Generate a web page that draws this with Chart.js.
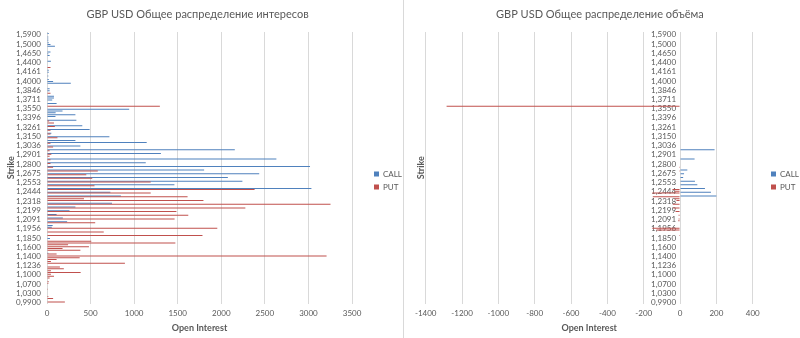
<!DOCTYPE html>
<html>
<head>
<meta charset="utf-8">
<script src="https://cdn.jsdelivr.net/npm/chart.js@4/dist/chart.umd.min.js"></script>
<style>
  body { margin: 0; background: #fff; }
  #oiBox { position: absolute; left: 0; top: 0; width: 403px; height: 338px; }
  #volBox { position: absolute; left: 403px; top: 0; width: 396px; height: 338px; border-left: 1px solid #d9d9d9; }
</style>
</head>
<body>
<div id="oiBox"><canvas id="chartOI" width="403" height="338"></canvas></div>
<div id="volBox"><canvas id="chartVol" width="396" height="338"></canvas></div>
<script>
// strikes printed on the axis (every 5th row, bottom to top)
const strikeTicks = ['0,9900', '1,0300', '1,0700', '1,1000', '1,1236', '1,1400', '1,1600', '1,1850',
  '1,1956', '1,2091', '1,2199', '1,2318', '1,2444', '1,2553', '1,2675', '1,2800', '1,2901', '1,3036',
  '1,3150', '1,3261', '1,3396', '1,3550', '1,3711', '1,3846', '1,4000', '1,4161', '1,4400', '1,4650',
  '1,5000', '1,5900'];

// open interest per strike row, bottom row first
const callOI = [
  0, 0, 0, 0, 0, 0, 0, 0, 0, 0,
  0, 0, 0, 0, 0, 0, 0, 0, 0, 0,
  0, 0, 0, 0, 0, 0, 0, 15, 0, 0,
  0, 0, 0, 0, 0, 34, 0, 0, 0, 0,
  0, 55, 65, 0, 231, 0, 182, 0, 110, 0,
  258, 0, 326, 0, 746, 0, 0, 0, 848, 0,
  727, 0, 3034, 0, 1462, 0, 2242, 0, 2075, 0,
  2435, 0, 1803, 0, 3018, 0, 1133, 0, 2632, 0,
  0, 1307, 0, 2155, 0, 383, 0, 1144, 326, 0,
  716, 0, 50, 0, 489, 0, 405, 0, 0, 337,
  0, 97, 326, 99, 178, 943, 0, 0, 110, 0,
  60, 80, 80, 0, 0, 30, 30, 0, 0, 273,
  70, 20, 0, 15, 0, 20, 20, 0, 0, 0,
  0, 45, 0, 0, 30, 15, 40, 0, 0, 91,
  40, 20, 15, 15, 15, 0, 20
];
const putOI = [
  205, 0, 70, 15, 0, 0, 0, 10, 0, 0,
  15, 20, 0, 30, 80, 45, 386, 45, 193, 148,
  0, 894, 45, 110, 375, 3208, 110, 0, 383, 178,
  481, 242, 1473, 508, 0, 0, 1784, 0, 651, 0,
  1954, 0, 0, 553, 0, 1464, 0, 1621, 0, 1485,
  0, 2276, 0, 3253, 0, 1795, 424, 1613, 0, 1190,
  0, 2382, 0, 545, 0, 1190, 0, 519, 0, 451,
  0, 583, 0, 70, 0, 40, 0, 40, 0, 30,
  50, 0, 30, 0, 70, 0, 40, 0, 0, 120,
  0, 40, 0, 40, 0, 90, 0, 80, 25, 0,
  0, 0, 0, 0, 0, 0, 1295, 0, 0, 0,
  0, 0, 0, 40, 0, 0, 0, 0, 0, 0,
  0, 0, 0, 0, 0, 0, 0, 40, 0, 0,
  0, 0, 0, 0, 0, 0, 0, 0, 0, 0,
  0, 0, 0, 0, 0, 0, 0
];

// volume per strike row (puts shown as negative)
const callVol = [
  0, 0, 0, 0, 0, 0, 0, 0, 0, 0,
  0, 0, 0, 0, 0, 0, 0, 0, 0, 0,
  0, 0, 0, 0, 0, 0, 0, 0, 0, 0,
  0, 0, 0, 0, 0, 0, 0, 0, 0, 0,
  0, 0, 0, 0, 0, 0, 0, 0, 0, 0,
  0, 0, 0, 0, 0, 0, 0, 0, 200, 0,
  170, 0, 137, 0, 95, 0, 82, 0, 17, 0,
  22, 0, 40, 0, 0, 0, 0, 0, 80, 0,
  0, 0, 0, 190, 0, 0, 0, 0, 0, 0,
  0, 0, 0, 0, 0, 0, 0, 0, 0, 0,
  0, 0, 0, 0, 0, 0, 0, 0, 0, 0,
  0, 0, 0, 0, 0, 0, 0, 0, 0, 0,
  0, 0, 0, 0, 0, 0, 0, 0, 0, 0,
  0, 0, 0, 0, 0, 0, 0, 0, 0, 0,
  0, 0, 0, 0, 0, 0, 0
];
const putVol = [
  0, 0, 0, 0, 0, 0, 0, 0, 0, 0,
  0, 0, 0, 0, 0, 0, 0, 0, 0, 0,
  0, 0, 0, 0, 0, 0, 0, 0, 0, 0,
  0, 0, 0, 0, 0, 0, -5, 0, 0, -130,
  -153, 0, 0, 0, -10, -8, 0, -8, 0, -25,
  0, -38, 0, -40, 0, -20, -30, -150, 0, -153,
  -30, -42, 0, 0, 0, 0, 0, 0, 0, 0,
  0, -5, 0, -5, 0, 0, 0, 0, 0, 0,
  0, 0, 0, 0, 0, 0, 0, 0, 0, 0,
  0, 0, 0, 0, 0, 0, 0, 0, 0, 0,
  0, 0, 0, 0, 0, 0, -1285, 0, 0, 0,
  0, 0, 0, 0, 0, 0, 0, 0, 0, 0,
  0, 0, 0, 0, 0, 0, 0, 0, 0, 0,
  0, 0, 0, 0, 0, 0, 0, 0, 0, 0,
  0, 0, 0, 0, 0, 0, 0
];

const rows = callOI.map((v, i) => (i % 5 === 0 ? strikeTicks[i / 5] : ''));

const blue = '#4F81BD';
const red = '#C0504D';
const textGrey = '#595959';
const gridGrey = '#d9d9d9';

Chart.defaults.font.family = "Lato, 'Liberation Sans', sans-serif";
Chart.defaults.color = textGrey;

// puts the legend block at a fixed spot right of the plot
const legendSpot = {
  id: 'legendSpot',
  afterLayout(chart, args, opts) {
    const lg = chart.legend;
    const h = lg.bottom - lg.top;
    lg.left = opts.x;
    lg.right = opts.x + lg.width;
    lg.top = opts.y - h / 2;
    lg.bottom = opts.y + h / 2;
  }
};

function baseOptions(titleText, legendX, padRight) {
  return {
    indexAxis: 'y',
    responsive: false,
    animation: false,
    layout: { padding: { right: padRight } },
    plugins: {
      title: {
        display: true,
        text: titleText,
        color: textGrey,
        font: { size: 11, weight: 'normal' },
        padding: { top: 7.5, bottom: 11.3 }
      },
      legend: {
        position: 'right',
        reverse: true,
        labels: { boxWidth: 5, boxHeight: 5, padding: 5, font: { size: 8 }, color: textGrey }
      },
      legendSpot: { x: legendX, y: 180.5 },
      tooltip: { enabled: false }
    }
  };
}

function xAxis(min, max, step) {
  return {
    min: min,
    max: max,
    ticks: { stepSize: step, padding: 5, font: { size: 8 }, callback: (v) => String(v) },
    grid: { color: gridGrey, drawTicks: false },
    border: { display: false },
    title: { display: true, text: 'Open Interest', color: textGrey, font: { size: 9, weight: 'bold' }, padding: { top: 0, bottom: 5 } },
    afterFit: (s) => { s.height = 34.5; }
  };
}

// thin hairline bars; no inflation so empty rows stay empty
function barSets(puts, calls) {
  return [
    { label: 'PUT', data: puts, backgroundColor: red, barThickness: 1, inflateAmount: 0 },
    { label: 'CALL', data: calls, backgroundColor: blue, barThickness: 1, inflateAmount: 0 }
  ];
}

// --- open interest ---
const oiOpts = baseOptions('GBP USD Общее распределение интересов', 369, 8);
oiOpts.scales = {
  x: xAxis(0, 3500, 500),
  y: {
    reverse: true,
    ticks: { autoSkip: false, padding: 6, font: { size: 8 } },
    grid: { display: false, drawTicks: false },
    border: { color: gridGrey },
    title: { display: true, text: 'Strike', color: textGrey, font: { size: 9, weight: 'bold' }, padding: { top: 6, bottom: 0 } },
    afterFit: (s) => { s.width = 47; }
  }
};

new Chart(document.getElementById('chartOI'), {
  type: 'bar',
  data: { labels: rows, datasets: barSets(putOI, callOI) },
  options: oiOpts,
  plugins: [legendSpot]
});

// --- volume ---
const volOpts = baseOptions('GBP USD Общее распределение объёма', 362, 4.3);
volOpts.scales = {
  x: xAxis(-1400, 400, 200),
  y: {
    reverse: true,
    position: { x: 0 },
    ticks: { autoSkip: false, font: { size: 8 }, callback: (v, i) => (rows[i] ? rows[i] + '\u2002' : '') },
    grid: { display: false, drawTicks: false },
    border: { color: gridGrey }
  },
  yTitle: {
    axis: 'y',
    position: 'left',
    ticks: { display: false },
    grid: { display: false, drawTicks: false },
    border: { display: false },
    title: { display: true, text: 'Strike', color: textGrey, font: { size: 9, weight: 'bold' }, padding: { top: 11.6, bottom: 0 } },
    afterFit: (s) => { s.width = 21.7; }
  }
};

new Chart(document.getElementById('chartVol'), {
  type: 'bar',
  data: { labels: rows, datasets: barSets(putVol, callVol) },
  options: volOpts,
  plugins: [legendSpot]
});
</script>
</body>
</html>
